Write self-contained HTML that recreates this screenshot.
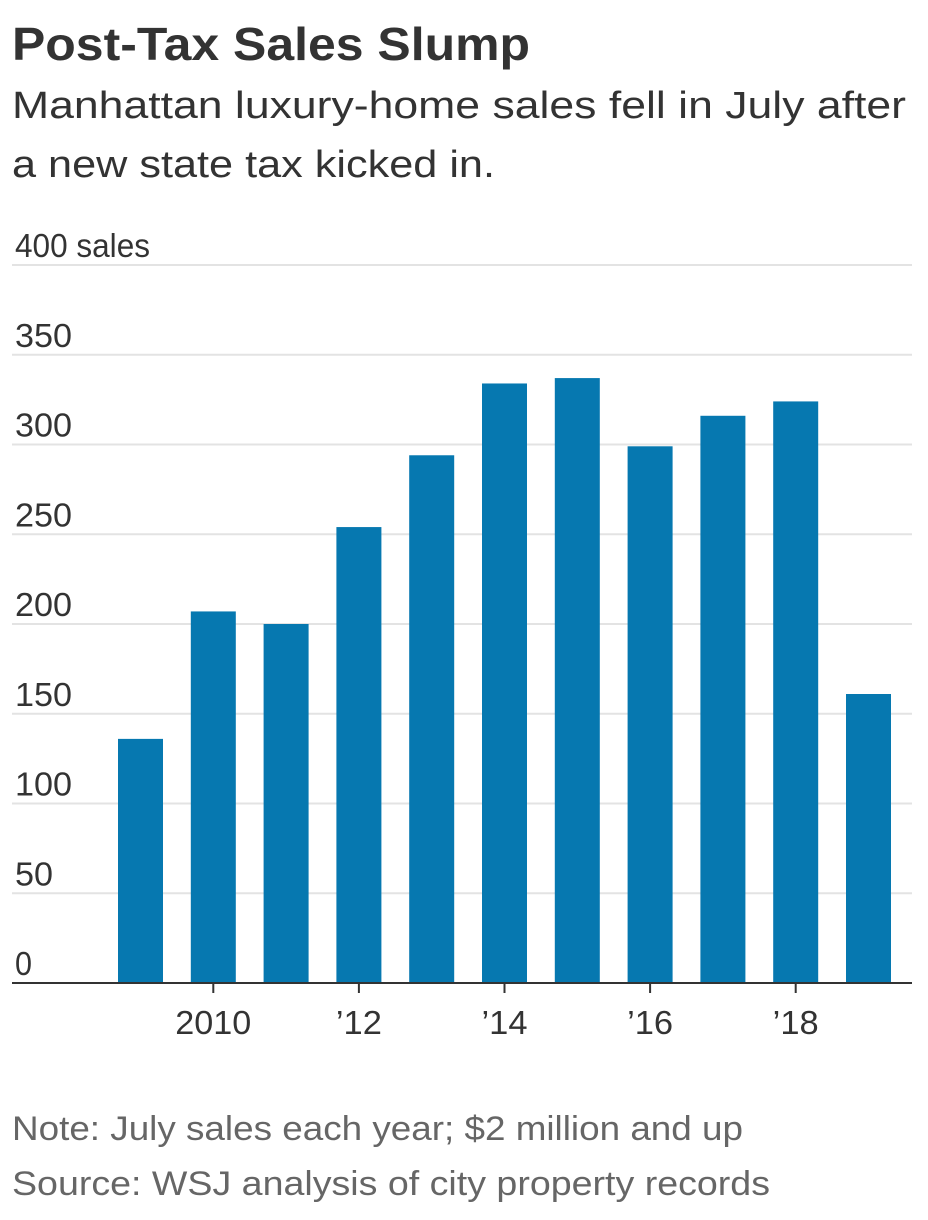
<!DOCTYPE html>
<html><head><meta charset="utf-8"><style>
html,body{margin:0;padding:0;background:#fff;}
svg{display:block;font-family:"Liberation Sans",sans-serif;}
</style></head><body>
<svg id="chart" width="928" height="1220">
<text x="12" y="60" font-size="46" font-weight="bold" fill="#333" textLength="518" lengthAdjust="spacingAndGlyphs">Post-Tax Sales Slump</text>
<text x="12" y="118" font-size="38" fill="#333" textLength="894" lengthAdjust="spacingAndGlyphs">Manhattan luxury-home sales fell in July after</text>
<text x="12" y="177" font-size="38" fill="#333" textLength="483" lengthAdjust="spacingAndGlyphs">a new state tax kicked in.</text>
<g id="grid"></g><g id="bars"></g><g id="xlabels"></g>
<text x="12" y="1140" font-size="34" fill="#666" textLength="731" lengthAdjust="spacingAndGlyphs">Note: July sales each year; $2 million and up</text>
<text x="12" y="1195" font-size="34" fill="#666" textLength="758" lengthAdjust="spacingAndGlyphs">Source: WSJ analysis of city property records</text>
</svg>
<script>
const years=[2009,2010,2011,2012,2013,2014,2015,2016,2017,2018,2019];
const sales=[136,207,200,254,294,334,337,299,316,324,161];
const yTicks=[0,50,100,150,200,250,300,350,400];
const yTickLabels=["0","50","100","150","200","250","300","350","400 sales"];
const xTickYears=[2010,2012,2014,2016,2018];
const xTickLabels=["2010","\u201912","\u201914","\u201916","\u201918"];
const NS="http://www.w3.org/2000/svg";
const y=v=>983-v*1.795;
const x=yr=>140.5+(yr-2009)*72.8;
function mk(t,a){const e=document.createElementNS(NS,t);for(const k in a)e.setAttribute(k,a[k]);return e;}
const grid=document.getElementById('grid');
yTicks.forEach((v,i)=>{
 if(v>0){const l=mk('line',{x1:12,x2:912,y1:y(v),y2:y(v),stroke:'#e3e3e3','stroke-width':2});
 
 grid.appendChild(l);}
 const t=mk('text',{x:15,y:y(v)-8,'font-size':33,fill:'#333'});
 
 
 t.textContent=yTickLabels[i];
 const w=v===400?135:(v===0?17:(v===50?38:57));
 t.setAttribute('textLength',w);t.setAttribute('lengthAdjust','spacingAndGlyphs');
 grid.appendChild(t);
});
const bars=document.getElementById('bars');
years.forEach((yr,i)=>{
 const r=mk('rect',{x:x(yr)-22.5,width:45,y:y(sales[i]),height:983-y(sales[i]),fill:'#0678b0'});
 
 
 bars.appendChild(r);
});
const base=mk('line',{x1:12,x2:912,y1:983,y2:983,stroke:'#333','stroke-width':2});


bars.appendChild(base);
const xl=document.getElementById('xlabels');
xTickYears.forEach((yr,i)=>{
 const tk=mk('line',{x1:x(yr),x2:x(yr),y1:983,y2:993,stroke:'#333','stroke-width':2});
 
 
 xl.appendChild(tk);
 const t=mk('text',{x:x(yr),y:1034,'font-size':33,fill:'#333','text-anchor':'middle'});
 
 
 t.textContent=xTickLabels[i];
 t.setAttribute('textLength',i===0?76:46);t.setAttribute('lengthAdjust','spacingAndGlyphs');
 xl.appendChild(t);
});
</script>
</body></html>
